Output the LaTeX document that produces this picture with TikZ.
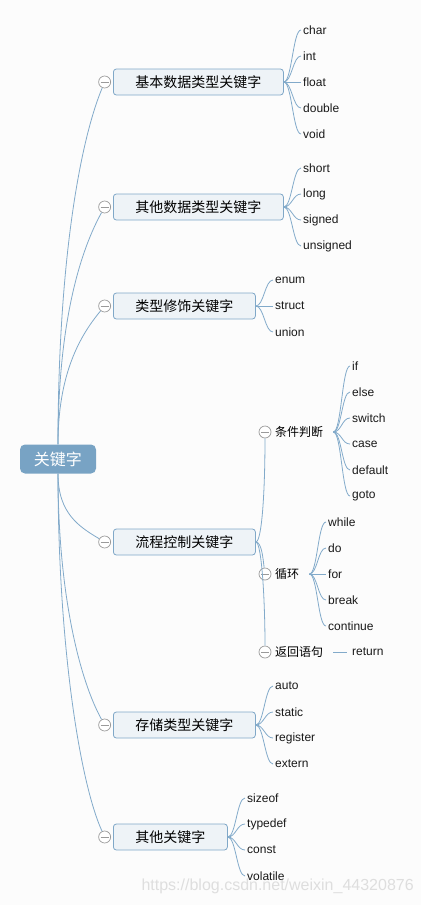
\documentclass[tikz,border=0pt]{standalone}
\usepackage{fontspec}
\setmainfont{Liberation Sans}
\newfontfamily\cjk{Noto Sans CJK SC}
\usepackage{xcolor}
\usepackage{tikz}
\usetikzlibrary{positioning}
\definecolor{paper}{HTML}{FCFCFC}
\definecolor{branch}{HTML}{82AACA}
\definecolor{rootfill}{HTML}{78A3C4}
\definecolor{catfill}{HTML}{EEF3F7}
\definecolor{catline}{HTML}{80A8C8}
\definecolor{knobline}{HTML}{9A9A9A}
\definecolor{wmark}{HTML}{DEDEDE}
\tikzset{
  rootbox/.style={
    rounded corners=5pt,fill=rootfill,text=white,
    minimum height=29pt,inner xsep=14pt,
    font=\cjk\fontsize{16}{18}\selectfont
  },
  catbox/.style={
    rounded corners=3pt,draw=catline,fill=catfill,
    line width=.8pt,minimum height=26pt,inner xsep=22pt,
    anchor=west,font=\cjk\fontsize{14}{16}\selectfont
  },
  subnode/.style={
    inner xsep=10pt,anchor=west,font=\cjk\fontsize{12}{14}\selectfont
  },
  kw/.style={
    inner xsep=2pt,inner ysep=1pt,anchor=west,
    text=black!90,font=\fontsize{12}{14}\selectfont
  },
  knob/.style={
    circle,draw=knobline,fill=white,line width=.7pt,
    minimum size=12pt,inner sep=0pt,
    path picture={\draw[knobline,line width=.7pt]
      ([xshift=-4pt]path picture bounding box.center) --
      ([xshift=4pt]path picture bounding box.center);}
  },
  link/.style={draw=branch,line width=.8pt},
  fan/.style={to path={.. controls +(8,0) and +(-8,0) .. (\tikztotarget)}}
}

\begin{document}
\begin{tikzpicture}[x=1pt,y=-1pt]
\fill[paper] (0,0) rectangle (421,905);
\useasboundingbox (0,0) rectangle (421,905);

\node[rootbox] (root) at (58,459) {关键字};

\node[catbox] (basic) at (113,82) {基本数据类型关键字};
\node[catbox] (extra) at (113,207) {其他数据类型关键字};
\node[catbox] (modif) at (113,306) {类型修饰关键字};
\node[catbox] (flow) at (113,542) {流程控制关键字};
\node[catbox] (store) at (113,725) {存储类型关键字};
\node[catbox] (misc) at (113,837) {其他关键字};
\node[knob,left=2pt of basic] (basic-k) {};
\node[knob,left=2pt of extra] (extra-k) {};
\node[knob,left=2pt of modif] (modif-k) {};
\node[knob,left=2pt of flow] (flow-k) {};
\node[knob,left=2pt of store] (store-k) {};
\node[knob,left=2pt of misc] (misc-k) {};

\node[kw] (char) at (301,30) {char};
\node[kw] (int) at (301,56) {int};
\node[kw] (float) at (301,82) {float};
\node[kw] (double) at (301,108) {double};
\node[kw] (void) at (301,134) {void};

\node[kw] (short) at (301,168) {short};
\node[kw] (long) at (301,194) {long};
\node[kw] (signed) at (301,220) {signed};
\node[kw] (unsigned) at (301,246) {unsigned};

\node[kw] (enum) at (273,280) {enum};
\node[kw] (struct) at (273,306) {struct};
\node[kw] (union) at (273,332) {union};

\node[subnode] (cond) at (265,432) {条件判断};
\node[subnode] (loop) at (265,574) {循环};
\node[subnode] (ret) at (265,652) {返回语句};
\node[knob] (cond-k) at (cond.west) {};
\node[knob] (loop-k) at (loop.west) {};
\node[knob] (ret-k) at (ret.west) {};

\node[kw] (if) at (350,366) {if};
\node[kw] (else) at (350,392) {else};
\node[kw] (switch) at (350,418) {switch};
\node[kw] (case) at (350,444) {case};
\node[kw] (default) at (350,470) {default};
\node[kw] (goto) at (350,496) {goto};

\node[kw] (while) at (326,522) {while};
\node[kw] (do) at (326,548) {do};
\node[kw] (for) at (326,574) {for};
\node[kw] (break) at (326,600) {break};
\node[kw] (continue) at (326,626) {continue};

\node[kw,inner xsep=5pt] (return) at (347,652) {return};

\node[kw] (auto) at (273,686) {auto};
\node[kw] (static) at (273,712) {static};
\node[kw] (register) at (273,738) {register};
\node[kw] (extern) at (273,764) {extern};

\node[kw] (sizeof) at (245,798) {sizeof};
\node[kw] (typedef) at (245,824) {typedef};
\node[kw] (const) at (245,850) {const};
\node[kw] (volatile) at (245,876) {volatile};

\node[anchor=west,text=wmark,font=\fontsize{16}{18}\selectfont] (url)
  at (138,886) {https://blog.csdn.net/weixin\_44320876};

% root to categories
\draw[link] (root.north) .. controls +(0,-180) and +(-25,60) .. (basic-k);
\draw[link] (root.north) .. controls +(0,-120) and +(-25,45) .. (extra-k);
\draw[link] (root.north) .. controls +(0,-70) and +(-25,30) .. (modif-k);
\draw[link] (root.south) .. controls +(0,40) and +(-25,-15) .. (flow-k);
\draw[link] (root.south) .. controls +(0,120) and +(-25,-45) .. (store-k);
\draw[link] (root.south) .. controls +(0,170) and +(-25,-55) .. (misc-k);

% categories to keywords
\draw[link] (basic.east) to[fan] (char.west);
\draw[link] (basic.east) to[fan] (int.west);
\draw[link] (basic.east) to[fan] (float.west);
\draw[link] (basic.east) to[fan] (double.west);
\draw[link] (basic.east) to[fan] (void.west);
\draw[link] (extra.east) to[fan] (short.west);
\draw[link] (extra.east) to[fan] (long.west);
\draw[link] (extra.east) to[fan] (signed.west);
\draw[link] (extra.east) to[fan] (unsigned.west);
\draw[link] (modif.east) to[fan] (enum.west);
\draw[link] (modif.east) to[fan] (struct.west);
\draw[link] (modif.east) to[fan] (union.west);
\draw[link] (store.east) to[fan] (auto.west);
\draw[link] (store.east) to[fan] (static.west);
\draw[link] (store.east) to[fan] (register.west);
\draw[link] (store.east) to[fan] (extern.west);
\draw[link] (misc.east) to[fan] (sizeof.west);
\draw[link] (misc.east) to[fan] (typedef.west);
\draw[link] (misc.east) to[fan] (const.west);
\draw[link] (misc.east) to[fan] (volatile.west);

% flow control branches
\draw[link] (flow.east) .. controls +(6,0) and +(0,60) .. (cond-k);
\draw[link] (flow.east) .. controls +(6,0) and +(-2,-15) .. (loop-k);
\draw[link] (flow.east) .. controls +(6,0) and +(0,-50) .. (ret-k);
\draw[link] (cond.east) to[fan] (if.west);
\draw[link] (cond.east) to[fan] (else.west);
\draw[link] (cond.east) to[fan] (switch.west);
\draw[link] (cond.east) to[fan] (case.west);
\draw[link] (cond.east) to[fan] (default.west);
\draw[link] (cond.east) to[fan] (goto.west);
\draw[link] (loop.east) to[fan] (while.west);
\draw[link] (loop.east) to[fan] (do.west);
\draw[link] (loop.east) to[fan] (for.west);
\draw[link] (loop.east) to[fan] (break.west);
\draw[link] (loop.east) to[fan] (continue.west);
\draw[link] (ret.east) -- (return.west);
\end{tikzpicture}
\end{document}
